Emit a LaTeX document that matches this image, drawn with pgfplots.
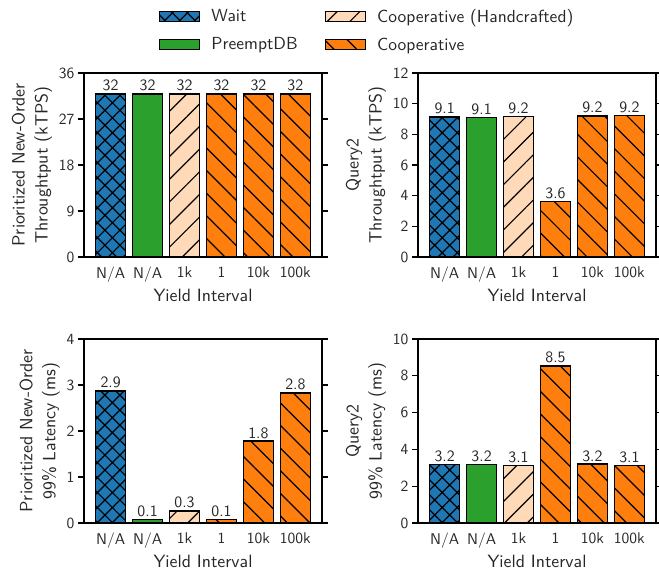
\documentclass[border=0pt]{standalone}
\usepackage{fontspec}
\setsansfont{lmsans10-regular}[Extension=.otf]
\usepackage{pgfplots}
\pgfplotsset{compat=1.18}
\usetikzlibrary{patterns.meta}
\renewcommand{\familydefault}{\sfdefault}
\definecolor{cwait}{HTML}{1F77B4}
\definecolor{cpre}{HTML}{2CA02C}
\definecolor{chand}{HTML}{FFDAB9}
\definecolor{ccoop}{HTML}{FF7F0E}
\definecolor{ctext}{HTML}{262626}
\tikzset{
  waitbar/.style={fill=cwait, postaction={pattern={Hatch[angle=45,distance=10.6bp,line width=1.2bp]}, pattern color=black}},
  prebar/.style={fill=cpre},
  handbar/.style={fill=chand, postaction={pattern={Lines[angle=45,distance=16bp,line width=1.2bp]}, pattern color=black}},
  coopbar/.style={fill=ccoop, postaction={pattern={Lines[angle=-45,distance=16bp,line width=1.2bp]}, pattern color=black}},
}
\pgfplotsset{
  mybar/.style={
    scale only axis, width=238bp, height=184bp,
    ybar, bar width=30bp,
    xmin=-0.72, xmax=5.72, ymin=0,
    xtick={0,1,2,3,4,5}, xticklabels={N/A,N/A,1k,1,10k,100k},
    xtick style={draw=none},
    ytick pos=both, tick align=outside, major tick length=6bp,
    axis line style={line width=1.5bp},
    ytick style={line width=1.2bp, black},
    ticklabel style={font=\fontsize{15.5bp}{18bp}\selectfont, text=ctext},
    /pgf/number format/assume math mode=true,
    xlabel={Yield Interval},
    label style={font=\fontsize{17.8bp}{23bp}\selectfont, text=ctext},
    ylabel style={align=center},
    nodes near coords, point meta=explicit symbolic,
    nodes near coords style={font=\fontsize{15.8bp}{17bp}\selectfont, text=ctext, inner sep=2bp},
    every axis plot/.append style={draw=black, line width=1.4bp, bar shift=0pt},
    area legend,
    legend image code/.code={\draw[#1] (0bp,-5bp) rectangle (40bp,5bp);},
  }
}
\begin{document}
\begin{tikzpicture}
\useasboundingbox (0,0) rectangle (659bp,-575bp);
% top left
\begin{axis}[mybar, at={(84bp,-257bp)}, anchor=south west,
  ymax=36, ytick={0,9,18,27,36},
  ylabel={Prioritized New-Order\\Throughtput (kTPS)},
  legend columns=2, transpose legend,
  legend style={at={(1.19,1.232)}, anchor=center, draw=none, fill=none,
    font=\fontsize{17.5bp}{20bp}\selectfont, text=ctext,
    /tikz/every odd column/.append style={column sep=9bp},
    /tikz/every even column/.append style={column sep=25bp},
    row sep=10bp},
  legend cell align=left]
\addplot[waitbar, bar shift=0pt] coordinates {(0,31.9) [32]};
\addplot[prebar, bar shift=0pt] coordinates {(1,31.9) [32]};
\addplot[handbar, bar shift=0pt] coordinates {(2,31.9) [32]};
\addplot[coopbar, bar shift=0pt] coordinates {(3,31.9) [32]};
\addplot[coopbar, bar shift=0pt, forget plot] coordinates {(4,31.9) [32]};
\addplot[coopbar, bar shift=0pt, forget plot] coordinates {(5,31.9) [32]};
\legend{Wait, PreemptDB, Cooperative (Handcrafted), Cooperative}
\end{axis}
% top right
\begin{axis}[mybar, at={(418bp,-257bp)}, anchor=south west,
  ymax=12, ytick={0,2,4,6,8,10,12},
  ylabel={Query2\\Throughtput (kTPS)}]
\addplot[waitbar, bar shift=0pt] coordinates {(0,9.14) [9.1]};
\addplot[prebar, bar shift=0pt] coordinates {(1,9.09) [9.1]};
\addplot[handbar, bar shift=0pt] coordinates {(2,9.18) [9.2]};
\addplot[coopbar, bar shift=0pt] coordinates {(3,3.63) [3.6]};
\addplot[coopbar, bar shift=0pt] coordinates {(4,9.2) [9.2]};
\addplot[coopbar, bar shift=0pt] coordinates {(5,9.24) [9.2]};
\end{axis}
% bottom left
\begin{axis}[mybar, at={(84bp,-523bp)}, anchor=south west,
  ymax=4, ytick={0,1,2,3,4},
  ylabel={Prioritized New-Order\\99\% Latency (ms)}]
\addplot[waitbar, bar shift=0pt] coordinates {(0,2.87) [2.9]};
\addplot[prebar, bar shift=0pt] coordinates {(1,0.08) [0.1]};
\addplot[handbar, bar shift=0pt] coordinates {(2,0.26) [0.3]};
\addplot[coopbar, bar shift=0pt] coordinates {(3,0.08) [0.1]};
\addplot[coopbar, bar shift=0pt] coordinates {(4,1.78) [1.8]};
\addplot[coopbar, bar shift=0pt] coordinates {(5,2.83) [2.8]};
\end{axis}
% bottom right
\begin{axis}[mybar, at={(418bp,-523bp)}, anchor=south west,
  ymax=10, ytick={0,2,4,6,8,10},
  ylabel={Query2\\99\% Latency (ms)}]
\addplot[waitbar, bar shift=0pt] coordinates {(0,3.17) [3.2]};
\addplot[prebar, bar shift=0pt] coordinates {(1,3.17) [3.2]};
\addplot[handbar, bar shift=0pt] coordinates {(2,3.13) [3.1]};
\addplot[coopbar, bar shift=0pt] coordinates {(3,8.54) [8.5]};
\addplot[coopbar, bar shift=0pt] coordinates {(4,3.2) [3.2]};
\addplot[coopbar, bar shift=0pt] coordinates {(5,3.12) [3.1]};
\end{axis}
\end{tikzpicture}
\end{document}
